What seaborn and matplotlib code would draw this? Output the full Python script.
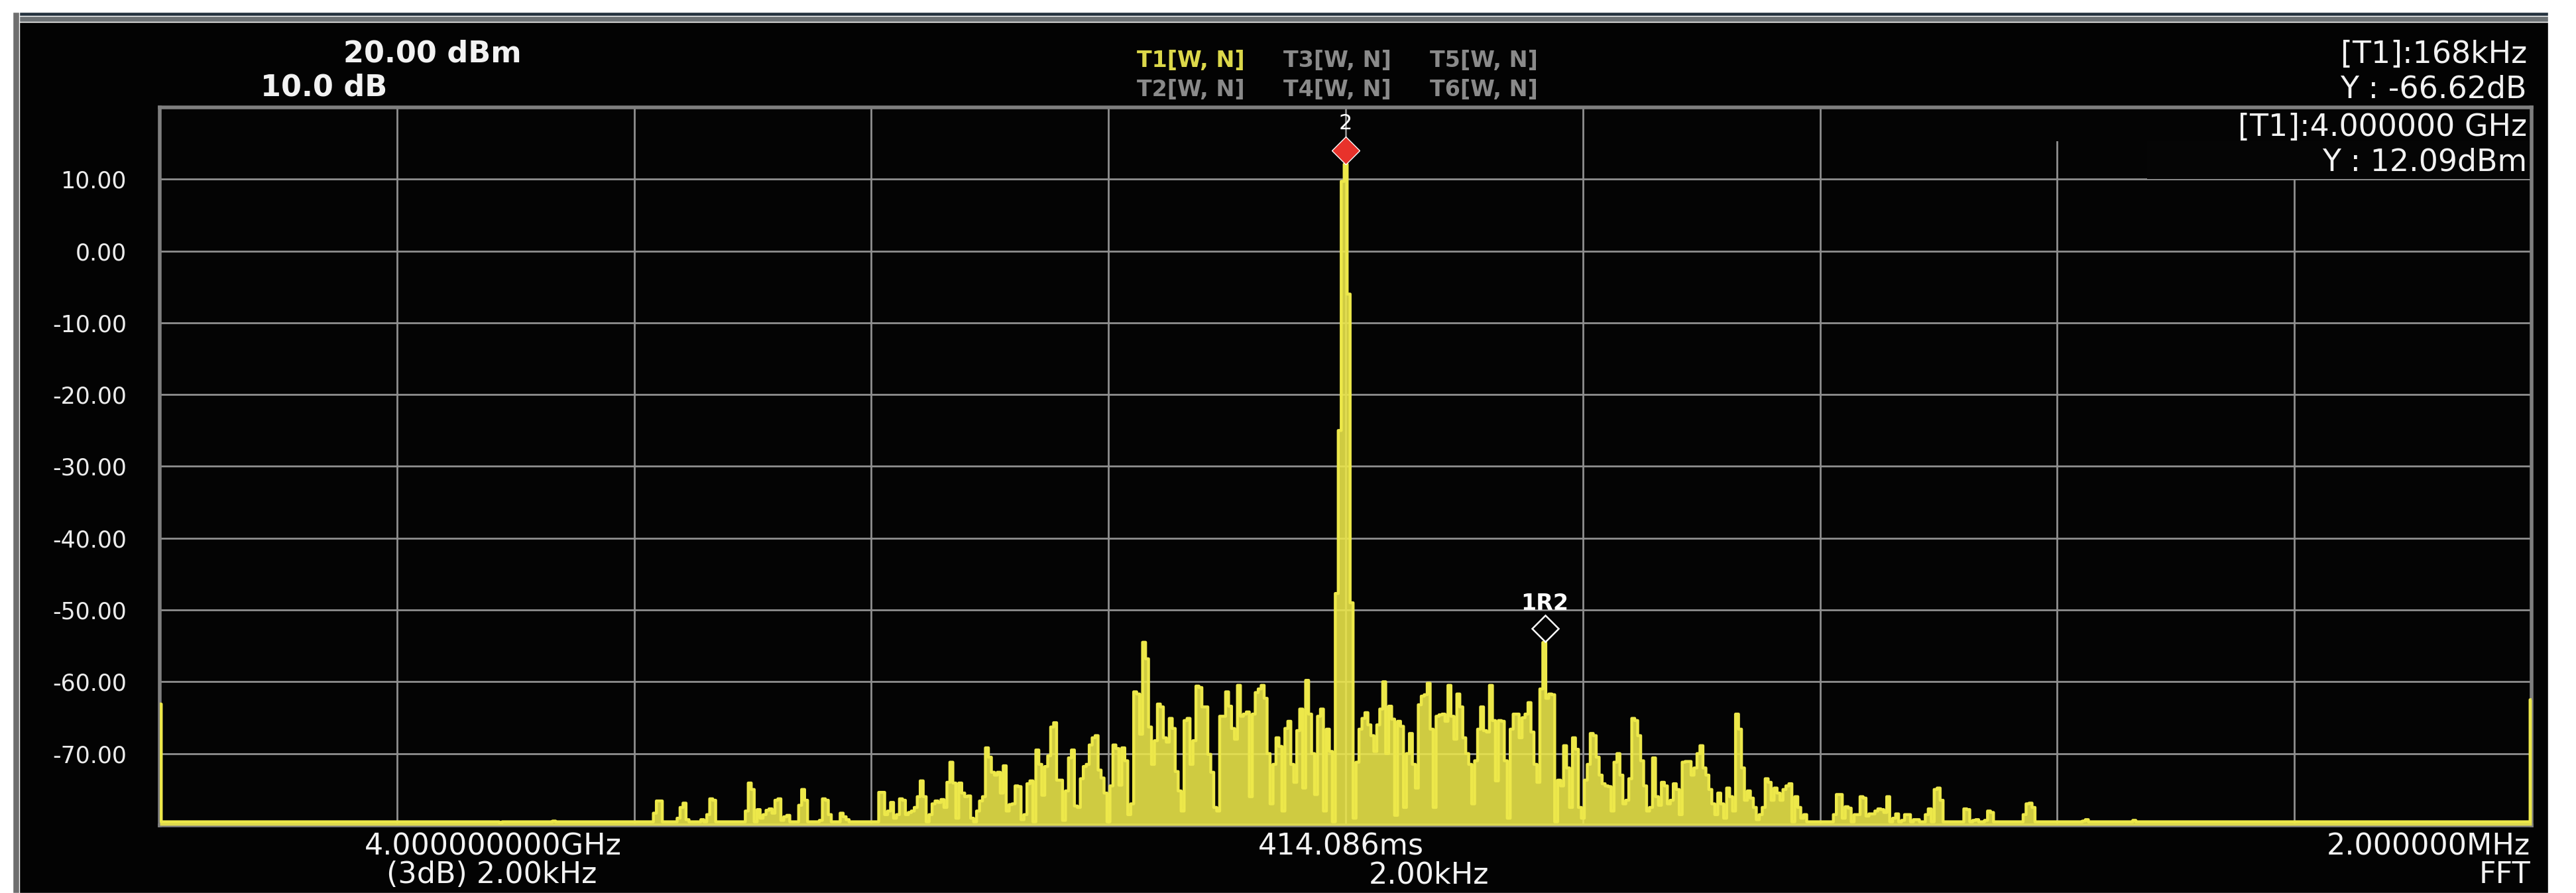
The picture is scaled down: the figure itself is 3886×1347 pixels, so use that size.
import numpy as np
import pandas as pd
import matplotlib
matplotlib.use("Agg")
import matplotlib.pyplot as plt
from matplotlib.patches import Rectangle
from matplotlib.transforms import offset_copy
import seaborn as sns

# trace: centre 4 GHz, span 2 MHz, one point every 2.5 kHz, levels in dBm
SPAN_KHZ = 1000.0
STEP_KHZ = 2.5
FLOOR_DB = -79.5

# dense part of the trace in 2.5 kHz steps
core_a_start = -392.5
core_a_db = [-75.4, -75.4, -78.5, -78.0, -76.8, -79.0, -78.5, -76.3, -76.5, -78.5,
             -78.2, -78.0, -77.5, -76.0, -73.8, -76.0, -79.5, -78.5, -77.0, -76.6,
             -76.8, -76.4, -77.5, -74.0, -71.2, -74.1, -79.0, -74.1, -75.5, -76.0,
             -75.9, -79.0, -79.5, -78.0, -76.6, -76.0, -69.2, -70.5, -72.6]

core_b_start = -295.0
core_b_db = [-73.0, -72.6, -75.5, -71.7, -78.0, -77.1, -77.0, -74.5, -74.6, -79.2,
             -78.5, -74.2, -73.8, -79.5, -69.5, -71.5, -75.8, -71.8, -70.3, -66.3,
             -65.7, -73.7, -73.7, -79.3, -75.2, -70.6, -69.5, -77.3, -77.5, -73.5,
             -71.8, -71.5, -68.8, -67.8, -67.5, -72.3, -73.4, -75.5, -79.5, -74.5,
             -68.8, -69.3, -74.4, -69.2, -71.0, -78.5, -77.0, -61.4, -61.7, -67.3,
             -54.5, -56.8, -66.3, -71.5, -68.2, -63.1, -63.5, -67.8, -68.4, -65.1,
             -66.5, -72.5, -75.2, -78.0, -65.4, -65.1, -71.5, -68.2, -60.6, -60.8,
             -63.5, -63.5, -70.1, -72.6, -77.5, -78.0, -64.8, -64.8, -61.4, -63.4,
             -66.5, -68.0, -60.5, -64.8, -64.5, -64.2, -76.0, -64.5, -61.5, -61.0]

core_c_start = -70.0
core_c_db = [-60.5, -62.3, -70.0, -77.0, -71.5, -67.8, -69.0, -78.0, -66.5, -65.5,
             -71.5, -74.0, -66.8, -63.8, -74.8, -59.8, -64.5, -70.0, -75.7, -64.8,
             -63.8, -78.0, -66.6, -69.7, -79.5, -47.7, -25.0, 9.7, 12.09, -6.0,
             -49.0, -79.0, -71.2, -66.6, -65.1, -64.3, -66.0, -67.5, -69.7, -66.0,
             -63.8, -60.0, -70.0, -63.4, -65.2, -78.6, -65.5, -66.2, -77.5, -70.0,
             -67.2, -71.5, -74.8, -63.2, -62.0, -61.8, -60.2, -66.6, -77.5, -64.8,
             -64.6, -64.5, -65.5, -60.5, -64.8, -68.0, -61.7, -63.5, -67.8, -70.0,
             -71.5, -77.0, -71.0, -66.6, -63.5, -66.8, -67.0, -60.5, -65.4, -73.8,
             -65.4, -65.5, -71.0, -79.0, -66.6, -64.5, -64.5, -67.8, -65.0]

core_d_start = 152.5
core_d_db = [-64.5, -62.9, -67.0, -71.5, -74.0, -61.0, -54.53, -62.3, -61.7, -61.8,
             -79.5, -73.7, -74.5, -68.9, -72.0, -77.5, -67.8, -69.4, -77.5, -79.0,
             -73.7, -71.5, -67.2, -67.5, -70.5, -73.0, -74.2, -74.5, -74.6, -78.0,
             -71.2, -70.0, -73.0, -77.0, -76.5, -73.5, -65.1, -65.4, -67.5, -71.0,
             -74.5, -78.0, -77.5, -70.6, -76.0, -77.2, -74.0, -74.5, -77.0, -76.5,
             -74.2, -75.0, -78.5, -71.2, -71.1, -71.1, -73.0, -72.0, -70.0, -68.9,
             -72.0, -73.0, -75.0, -77.0, -78.5, -75.5, -77.0, -79.0, -74.8, -76.0,
             -78.0, -64.5, -66.6, -72.0, -76.5, -75.2, -76.2, -77.5, -79.2, -78.5,
             -77.5, -73.5, -74.0, -76.5, -74.8, -75.5, -76.5, -75.0, -74.5]

# sparse spurs in the skirts, everything else sits on the floor
left_spur_khz = [-712.5, -667.5, -582.5, -580.0, -577.5, -575.0, -562.5, -560.0, -557.5,
                 -555.0, -545.0, -542.5, -537.5, -535.0, -532.5, -505.0, -502.5, -500.0,
                 -497.5, -495.0, -492.5, -490.0, -487.5, -485.0, -482.5, -480.0, -477.5,
                 -475.0, -472.5, -470.0, -467.5, -460.0, -457.5, -455.0, -452.5, -442.5,
                 -440.0, -437.5, -435.0, -432.5, -427.5, -425.0, -422.5, -420.0]
left_spur_db = [-79.6, -79.4, -78.3, -76.6, -76.6, -79.5, -79.0, -77.5, -76.9,
                -79.2, -79.5, -79.2, -78.5, -76.3, -76.5, -78.0, -74.1, -75.0,
                -79.5, -77.8, -79.0, -78.5, -77.9, -77.7, -78.3, -76.5, -76.3,
                -79.3, -78.8, -78.6, -79.5, -77.2, -75.0, -76.5, -79.5, -79.3,
                -76.3, -76.5, -78.5, -79.5, -79.5, -78.3, -78.8, -79.2]

right_spur_khz = [375.0, 377.5, 380.0, 382.5, 385.0, 387.5, 402.5, 412.5, 415.0, 417.5,
                  420.0, 422.5, 425.0, 427.5, 430.0, 432.5, 435.0, 437.5, 440.0, 442.5,
                  445.0, 447.5, 450.0, 452.5, 455.0, 457.5, 460.0, 462.5, 465.0, 467.5,
                  470.0, 472.5, 475.0, 477.5, 480.0, 482.5, 485.0, 487.5, 490.0, 492.5,
                  495.0, 497.5, 500.0, 502.5, 522.5, 525.0, 527.5, 530.0, 532.5, 540.0,
                  542.5, 545.0, 572.5, 575.0, 577.5, 580.0, 622.5, 625.0, 665.0]
right_spur_db = [-74.2, -79.5, -76.0, -77.5, -79.0, -78.5, -79.5, -78.5, -75.7, -75.7,
                 -79.0, -77.4, -77.6, -79.5, -78.5, -78.5, -76.0, -76.2, -78.7, -78.4,
                 -78.4, -78.0, -77.7, -77.8, -78.2, -76.0, -79.5, -79.0, -78.4, -79.5,
                 -79.3, -78.5, -78.5, -79.5, -79.2, -79.2, -79.5, -79.5, -78.5, -77.7,
                 -79.5, -75.0, -74.8, -76.5, -77.7, -77.8, -79.5, -79.3, -79.2, -79.3,
                 -78.0, -78.2, -78.5, -77.0, -76.9, -77.5, -79.4, -79.2, -79.3]

edge_khz = [-1000.0, 1000.0]
edge_db = [-63.1, -62.5]

# marker readouts
peak_khz, peak_db = 0.0, 12.09
delta_khz, delta_db = 168.0, -66.62

y_ticks = [10, 0, -10, -20, -30, -40, -50, -60, -70]
x_grid_khz = [-800, -600, -400, -200, 0, 200, 400, 600, 800]

legend_top = ["T1[W, N]", "T3[W, N]", "T5[W, N]"]
legend_bottom = ["T2[W, N]", "T4[W, N]", "T6[W, N]"]

# build the trace on the 2.5 kHz grid
freq_khz = np.arange(-SPAN_KHZ, SPAN_KHZ + STEP_KHZ / 2, STEP_KHZ)
level_db = np.full(freq_khz.size, FLOOR_DB)


def put(khz, db):
    idx = np.rint((np.asarray(khz) + SPAN_KHZ) / STEP_KHZ).astype(int)
    level_db[idx] = db


for start, vals in [(core_a_start, core_a_db), (core_b_start, core_b_db),
                    (core_c_start, core_c_db), (core_d_start, core_d_db)]:
    put(start + STEP_KHZ * np.arange(len(vals)), vals)
put(left_spur_khz, left_spur_db)
put(right_spur_khz, right_spur_db)
put(edge_khz, edge_db)

df = pd.DataFrame({"freq_khz": freq_khz, "level_db": level_db})

sns.set_style("ticks")
plt.rcParams["font.family"] = ["DejaVu Sans"]

W, H = 3887, 1347
fig = plt.figure(figsize=(W / 100, H / 100), dpi=100, facecolor="white")

# instrument screen frame
fig.patches.append(Rectangle((19 / W, 0), (3844 - 19) / W, 1 - 33 / H,
                             transform=fig.transFigure, facecolor="#030303", zorder=-10))
fig.patches.append(Rectangle((19 / W, 1 - 33 / H), (3844 - 19) / W, 15 / H,
                             transform=fig.transFigure, facecolor="#6c7174", zorder=-9))
fig.patches.append(Rectangle((19 / W, 1 - 24 / H), (3844 - 19) / W, 6 / H,
                             transform=fig.transFigure, facecolor="#24323e", zorder=-8))
fig.patches.append(Rectangle((19 / W, 0), 10 / W, 1 - 18 / H,
                             transform=fig.transFigure, facecolor="#6f6f6f", zorder=-8))

ax = fig.add_axes([241 / W, 1 - 1245 / H, (3819 - 241) / W, (1245 - 162) / H])
ax.set_facecolor("#040404")

yellow = "#ede84a"
# the screen trace is so dense that it reads as a filled band
ax.fill_between(df["freq_khz"], df["level_db"], -80, step="mid", color=yellow,
                alpha=0.88, linewidth=0, zorder=2.9)
sns.lineplot(data=df, x="freq_khz", y="level_db", ax=ax, color=yellow,
             linewidth=3.2, drawstyle="steps-mid", estimator=None, zorder=3)

ax.set_xlim(-SPAN_KHZ, SPAN_KHZ)
ax.set_ylim(-80, 20)
ax.set_xticks(x_grid_khz)
ax.set_xticklabels([])
ax.set_yticks(y_ticks)
ax.set_yticklabels([f"{v:.2f}" for v in y_ticks])
ax.tick_params(length=0)
ax.tick_params(axis="y", pad=36, labelsize=25, labelcolor="#ececec")
ax.set(xlabel="", ylabel="")
ax.grid(True, color="#8f8f8f", linewidth=2)
ax.set_axisbelow(True)
for side in ["left", "right", "top", "bottom"]:
    ax.spines[side].set_color("#7f7f7f")
    ax.spines[side].set_linewidth(4)

# readout box in the upper right hides the grid behind it
ax.add_patch(Rectangle((0.838, 0.900), 0.162, 0.100, transform=ax.transAxes,
                       facecolor="#050505", edgecolor="none", zorder=1))
ax.add_patch(Rectangle((0.78, 0.953), 0.22, 0.046, transform=ax.transAxes,
                       facecolor="#040404", edgecolor="none", zorder=1))

# markers: filled red for the reference, hollow for the delta
lift = offset_copy(ax.transData, fig=fig, y=15, units="points")
ax.plot([peak_khz], [peak_db], marker="D", ms=21, mfc="#e8322b", mec="white", mew=1,
        transform=lift, clip_on=False, zorder=6)
ax.plot([delta_khz], [peak_db + delta_db], marker="D", ms=20, mfc="none", mec="white",
        mew=1.8, transform=lift, clip_on=False, zorder=6)
ax.annotate("2", (peak_khz, peak_db), xytext=(0, 44), textcoords="offset points",
            ha="center", va="center", color="white", fontsize=23, zorder=6)
ax.annotate("1R2", (delta_khz, peak_db + delta_db), xytext=(0, 42), textcoords="offset points",
            ha="center", va="center", color="white", fontsize=24, fontweight="bold", zorder=6)

white = "#f2f2f2"
fig.text(652 / W, 1 - 81 / H, "20.00 dBm", ha="center", va="center", color=white,
         fontsize=32, fontweight="bold")
fig.text(489 / W, 1 - 132 / H, "10.0 dB", ha="center", va="center", color=white,
         fontsize=32, fontweight="bold")

for i, (top, bottom) in enumerate(zip(legend_top, legend_bottom)):
    x = (1715 + 221 * i) / W
    fig.text(x, 1 - 92 / H, top, ha="left", va="center", fontsize=24, fontweight="bold",
             color="#dcd84a" if i == 0 else "#8a8a8a")
    fig.text(x, 1 - 135 / H, bottom, ha="left", va="center", fontsize=24,
             fontweight="bold", color="#8a8a8a")

readouts = [f"[T1]:{delta_khz:.0f}kHz", f"Y : {delta_db:.2f}dB",
            "[T1]:4.000000 GHz", f"Y : {peak_db:.2f}dBm"]
for text, y in zip(readouts, [82, 135, 192, 245]):
    fig.text(3812 / W, 1 - y / H, text, ha="right", va="center", color=white, fontsize=33)

fig.text(744 / W, 1 - 1277 / H, "4.000000000GHz", ha="center", va="center",
         color=white, fontsize=32)
fig.text(742 / W, 1 - 1320 / H, "(3dB) 2.00kHz", ha="center", va="center",
         color=white, fontsize=32)
fig.text(2023 / W, 1 - 1277 / H, "414.086ms", ha="center", va="center",
         color=white, fontsize=32)
fig.text(2156 / W, 1 - 1320 / H, "2.00kHz", ha="center", va="center",
         color=white, fontsize=32)
fig.text(3817 / W, 1 - 1277 / H, "2.000000MHz", ha="right", va="center",
         color=white, fontsize=32)
fig.text(3817 / W, 1 - 1320 / H, "FFT", ha="right", va="center", color=white, fontsize=32)

fig.savefig("out.png", dpi=100, facecolor=fig.get_facecolor())
